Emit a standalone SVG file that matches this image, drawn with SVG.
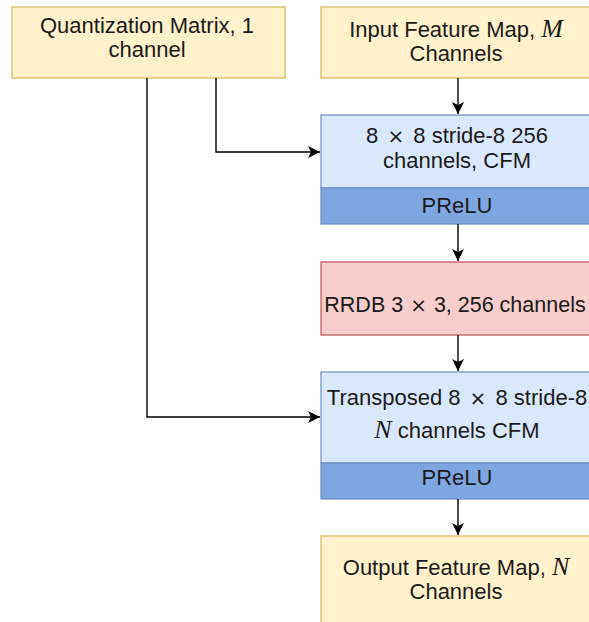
<svg xmlns="http://www.w3.org/2000/svg" width="589" height="622" viewBox="0 0 589 622">
<style>
  .t{font-family:"Liberation Sans",Arial,sans-serif;font-size:22px;fill:#1a1a1a;text-anchor:middle}
  .m{font-family:"Liberation Serif","Times New Roman",serif;font-style:italic;font-size:26px}
  .x{font-family:"DejaVu Sans",sans-serif;font-size:20px}
  .yel{fill:#fff2cc;stroke:#d6b656;stroke-width:1.2}
  .blu{fill:#dae8fc;stroke:#6c8ebf;stroke-width:1.2}
  .dblu{fill:#7ea6e0;stroke:#6c8ebf;stroke-width:1.2}
  .red{fill:#f8cecc;stroke:#b85450;stroke-width:1.2}
  .c{fill:none;stroke:#000;stroke-width:1.4}
</style>
<defs>
  <marker id="ah" markerUnits="userSpaceOnUse" markerWidth="12" markerHeight="12" refX="10" refY="5" orient="auto" viewBox="0 0 10 10">
    <path d="M0,0 L10,5 L0,10 L2.5,5 z" fill="#000"/>
  </marker>
</defs>
<rect width="589" height="622" fill="#ffffff"/>

<g id="quant">
  <rect class="yel" x="12" y="7" width="273" height="71"/>
  <text class="t" x="147" y="33">Quantization Matrix, 1</text>
  <text class="t" x="147" y="57">channel</text>
</g>

<g id="input">
  <rect class="yel" x="321" y="7" width="270" height="71"/>
  <text class="t" x="456" y="37">Input Feature Map, <tspan class="m">M</tspan></text>
  <text class="t" x="456" y="61">Channels</text>
</g>

<g id="cfm">
  <rect class="blu" x="321" y="115" width="270" height="73"/>
  <rect class="dblu" x="321" y="188" width="270" height="36"/>
  <text class="t" x="457" y="143">8 <tspan class="x" dx="3">×</tspan> <tspan dx="3">8 stride-8 256</tspan></text>
  <text class="t" x="457" y="168">channels, CFM</text>
  <text class="t" x="457" y="213">PReLU</text>
</g>

<g id="rrdb">
  <rect class="red" x="321" y="262" width="270" height="73"/>
  <text class="t" x="455" y="312" style="font-size:21.5px">RRDB 3 <tspan class="x" dx="1">×</tspan> <tspan dx="1">3, 256 channels</tspan></text>
</g>

<g id="tconv">
  <rect class="blu" x="321" y="372" width="270" height="91"/>
  <rect class="dblu" x="321" y="463" width="270" height="36"/>
  <text class="t" x="457" y="405">Transposed 8 <tspan class="x" dx="3">×</tspan> <tspan dx="3">8 stride-8</tspan></text>
  <text class="t" x="457" y="438"><tspan class="m">N</tspan> channels CFM</text>
  <text class="t" x="457" y="485">PReLU</text>
</g>

<g id="output">
  <rect class="yel" x="321" y="536" width="270" height="100"/>
  <text class="t" x="456" y="575">Output Feature Map, <tspan class="m">N</tspan></text>
  <text class="t" x="456" y="599">Channels</text>
</g>

<g id="connectors">
  <path class="c" d="M458,78 V114" marker-end="url(#ah)"/>
  <path class="c" d="M458,224 V261" marker-end="url(#ah)"/>
  <path class="c" d="M458,335 V371" marker-end="url(#ah)"/>
  <path class="c" d="M458,499 V535" marker-end="url(#ah)"/>
  <path class="c" d="M216,78 V152 H320" marker-end="url(#ah)"/>
  <path class="c" d="M147,78 V417 H320" marker-end="url(#ah)"/>
</g>
</svg>
